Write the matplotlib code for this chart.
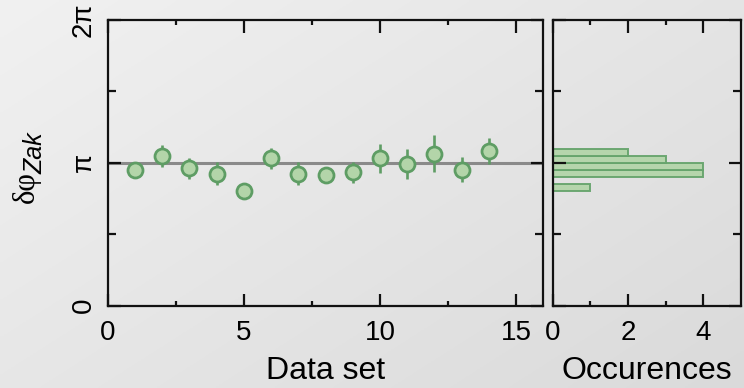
import numpy as np
import matplotlib
matplotlib.use("Agg")
import matplotlib.pyplot as plt
from matplotlib.ticker import FixedLocator

# ---- data ----
data_set = [1, 2, 3, 4, 5, 6, 7, 8, 9, 10, 11, 12, 13, 14]
phase = [2.995, 3.289, 3.025, 2.907, 2.526, 3.245, 2.907, 2.871, 2.937, 3.245, 3.127, 3.347, 2.995, 3.406]
phase_err = [0.10, 0.24, 0.23, 0.26, 0.10, 0.23, 0.26, 0.10, 0.23, 0.32, 0.33, 0.40, 0.27, 0.29]
bin_width = np.pi / 20
ytick_labels = ["0", "π", "2π"]

plt.rcParams['font.family'] = ['Liberation Sans', 'DejaVu Sans']

W, H = 744, 388
fig = plt.figure(figsize=(W / 100, H / 100), dpi=100)

# background gradient
bg = fig.add_axes([0, 0, 1, 1], zorder=-10)
yy, xx = np.mgrid[0:1:200j, 0:1:200j]
grad = 0.945 - 0.09 * (0.55 * xx + 0.45 * yy)
bg.imshow(np.dstack([grad, grad, grad]), aspect='auto', extent=[0, 1, 0, 1], origin='upper')
bg.axis('off')

edge_c = '#5e9d64'
face_c = '#b3d5a9'
spine_c = '#111111'

ax = fig.add_axes([107.7 / W, 1 - 305.7 / H, (543.3 - 107.7) / W, (305.7 - 20) / H])
axh = fig.add_axes([552.7 / W, 1 - 305.7 / H, (740.7 - 552.7) / W, (305.7 - 20) / H])

for a in (ax, axh):
    a.set_facecolor('none')
    for s in a.spines.values():
        s.set_linewidth(1.6)
        s.set_color(spine_c)
    a.tick_params(which='both', direction='in', top=True, right=True,
                  width=1.6, color=spine_c, labelsize=20)
    a.tick_params(which='major', length=9)
    a.set_ylim(0, 2 * np.pi)
    a.yaxis.set_major_locator(FixedLocator([0, np.pi, 2 * np.pi]))
    a.yaxis.set_minor_locator(FixedLocator([np.pi / 2, 3 * np.pi / 2]))
    a.tick_params(axis='y', which='minor', length=5.5)
    a.tick_params(axis='x', which='minor', length=3.5)
    a.tick_params(axis='x', which='major', pad=10.5)

# main panel
ax.axhline(np.pi, color='#8a8a8a', lw=2.2, zorder=1)
ax.errorbar(data_set, phase, yerr=phase_err, fmt='o', ms=10.8, mfc=face_c,
            mec=edge_c, mew=2.0, ecolor=edge_c, elinewidth=1.9, capsize=0, zorder=3)
ax.set_xlim(0, 16)
ax.xaxis.set_major_locator(FixedLocator([0, 5, 10, 15]))
ax.xaxis.set_minor_locator(FixedLocator([2.5, 7.5, 12.5]))
ax.set_yticklabels(ytick_labels, rotation=90, va='center')
ax.tick_params(axis='y', which='major', pad=8)
ax.set_xlabel('Data set', fontsize=23, labelpad=7)

# histogram panel
bins = np.arange(0, 2 * np.pi + bin_width / 2, bin_width)
axh.hist(phase, bins=bins, orientation='horizontal', color=face_c,
         edgecolor='#66a46c', linewidth=1.4, alpha=0.95)
axh.set_xlim(0, 5)
axh.xaxis.set_major_locator(FixedLocator([0, 2, 4]))
axh.xaxis.set_minor_locator(FixedLocator([1, 3]))
axh.set_yticklabels([])
axh.set_xlabel('Occurences', fontsize=23, labelpad=7)

# y label: δφ with subscript Zak
fig.text(26 / W, 1 - 187 / H, 'δφ', family='Liberation Serif', fontsize=22,
         rotation=90, ha='center', va='center')
fig.text(35 / W, 1 - 153 / H, 'Zak', family='Liberation Sans', style='italic',
         fontsize=18, rotation=90, ha='center', va='center')

fig.savefig('out.png', dpi=100)
